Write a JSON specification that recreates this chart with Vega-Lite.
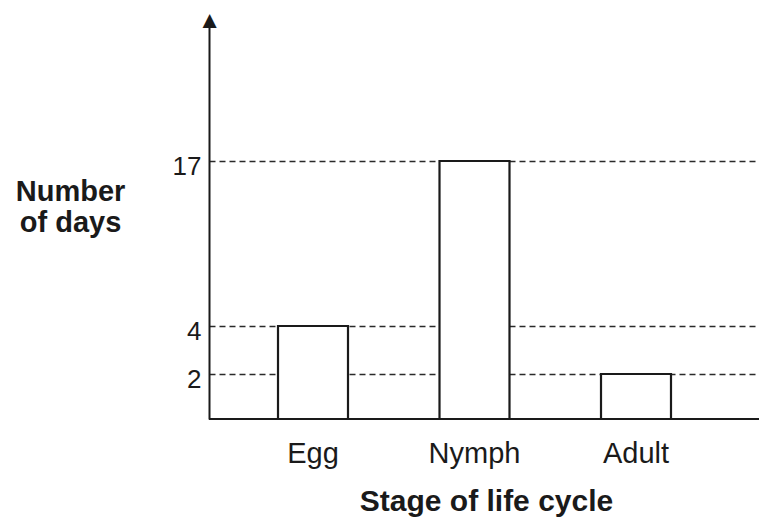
{
  "$schema": "https://vega.github.io/schema/vega-lite/v6.json",
  "width": 550,
  "height": 399,
  "autosize": "none",
  "padding": {"left": 209, "top": 20, "right": 0, "bottom": 104},
  "background": "white",
  "config": {"view": {"stroke": null}, "font": "Liberation Sans"},
  "layer": [
    {
      "data": {"values": [
        {"stage": "Egg", "days": 4},
        {"stage": "Nymph", "days": 17},
        {"stage": "Adult", "days": 2}
      ]},
      "mark": {"type": "bar", "fill": "white", "stroke": "#1a1a1a", "strokeWidth": 2.2},
      "encoding": {
        "x": {
          "field": "stage", "type": "nominal", "sort": ["Egg", "Nymph", "Adult"],
          "scale": {"paddingInner": 0.5666, "paddingOuter": 0.4861, "align": 0.4395},
          "axis": {
            "title": "Stage of life cycle", "domain": false, "ticks": false, "labelAngle": 0,
            "labelFontSize": 29, "labelPadding": 20, "labelColor": "#1a1a1a",
            "titleFontSize": 30, "titleFontWeight": "bold", "titleColor": "#1a1a1a",
            "titleX": 277, "titleY": 91, "titleAlign": "center", "titleBaseline": "alphabetic"
          }
        },
        "y": {
          "field": "days", "type": "quantitative",
          "scale": {"domain": [0, 2, 4, 17, 28], "range": [399, 354, 306, 141, 0], "nice": false, "zero": false},
          "axis": {
            "title": ["Number", "of days"], "titleAngle": 0, "titleX": -139, "titleY": 180,
            "titleAlign": "center", "titleBaseline": "alphabetic", "titleFontSize": 29,
            "titleFontWeight": "bold", "titleLineHeight": 31, "titleColor": "#1a1a1a",
            "values": [2, 4, 17, 28],
            "labelExpr": "datum.value == 28 ? '▲' : datum.label",
            "labelFontSize": {"condition": {"test": "datum.value == 28", "value": 24}, "value": 26},
            "labelAlign": {"condition": {"test": "datum.value == 28", "value": "center"}, "value": "right"},
            "labelPadding": {"condition": {"test": "datum.value == 28", "value": 0}, "value": 8},
            "labelOffset": {"condition": {"test": "datum.value == 28", "value": 0}, "value": 5},
            "labelBaseline": "middle", "labelColor": "#1a1a1a",
            "labelOverlap": false, "labelBound": false, "labelFlush": false,
            "ticks": false, "tickSize": 0,
            "domainColor": "#1a1a1a", "domainWidth": 2,
            "grid": true, "gridDash": [6, 4], "gridColor": "#2a2a2a", "gridWidth": 1.5,
            "gridOpacity": {"condition": {"test": "datum.value == 28", "value": 0}, "value": 1}
          }
        }
      }
    },
    {
      "data": {"values": [{"days": 0}]},
      "mark": {"type": "rule", "stroke": "#1a1a1a", "strokeWidth": 2},
      "encoding": {"y": {"field": "days", "type": "quantitative"}}
    }
  ]
}
